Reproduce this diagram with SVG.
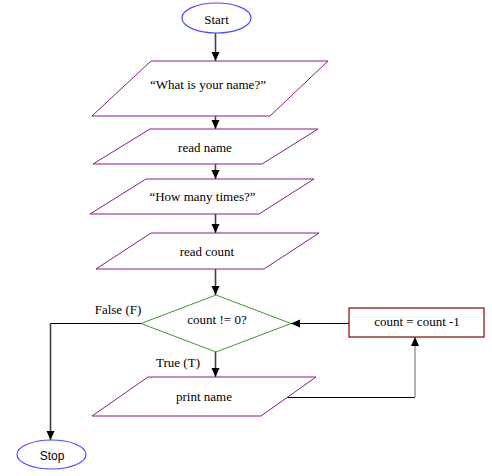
<svg xmlns="http://www.w3.org/2000/svg" width="492" height="476" viewBox="0 0 492 476">
<style>
text{font-family:"Liberation Serif","Times New Roman",serif;font-size:13px;fill:#000;text-anchor:middle}
.term{fill:#fff;stroke:#4d4dff;stroke-width:1.2}
.io{fill:#fff;stroke:#8b1a8b;stroke-width:1}
.dec{fill:#fff;stroke:#3f9a2f;stroke-width:1}
.proc{fill:#fff;stroke:#8b0000;stroke-width:1.2}
.v{fill:none;stroke:#404040;stroke-width:1.6}
.h{fill:none;stroke:#000;stroke-width:1}
.g{fill:none;stroke:#a0a0a0;stroke-width:1.6}
</style>
<defs>
<marker id="ah" markerWidth="10" markerHeight="10" refX="9" refY="5" orient="auto" markerUnits="userSpaceOnUse">
<path d="M0,1 L9,5 L0,9 Z" fill="#000"/>
</marker>
</defs>
<rect width="492" height="476" fill="#fff"/>
<g id="connectors">
<line class="v" x1="215.5" y1="33" x2="215.5" y2="61" marker-end="url(#ah)"/>
<line class="v" x1="215.5" y1="116" x2="215.5" y2="129" marker-end="url(#ah)"/>
<line class="v" x1="215.5" y1="164" x2="215.5" y2="179" marker-end="url(#ah)"/>
<line class="v" x1="215.5" y1="214" x2="215.5" y2="233" marker-end="url(#ah)"/>
<line class="v" x1="215.5" y1="269" x2="215.5" y2="295" marker-end="url(#ah)"/>
<line class="v" x1="215.5" y1="352" x2="215.5" y2="377" marker-end="url(#ah)"/>
<polyline class="h" points="141,323.5 50.5,323.5"/>
<line class="v" x1="50.5" y1="323.5" x2="50.5" y2="440" marker-end="url(#ah)"/>
<line class="h" x1="349" y1="323.5" x2="291" y2="323.5" marker-end="url(#ah)"/>
<polyline class="h" points="287,397.5 415,397.5"/>
<line class="g" x1="415" y1="397.5" x2="415" y2="337" marker-end="url(#ah)"/>
<text x="118" y="314">False (F)</text>
<text x="178" y="367">True (T)</text>
</g>
<g id="start">
<ellipse class="term" cx="216.5" cy="18" rx="34.5" ry="15"/>
<text x="216.5" y="24">Start</text>
</g>
<g id="ask-name">
<polygon class="io" points="151,61 328,61 270,116 92,116"/>
<text x="208" y="89">“What is your name?”</text>
</g>
<g id="read-name">
<polygon class="io" points="150,129 318,129 262,164 93,164"/>
<text x="205" y="152">read name</text>
</g>
<g id="ask-times">
<polygon class="io" points="146,179 314,179 259,214 90,214"/>
<text x="202.5" y="201">“How many times?”</text>
</g>
<g id="read-count">
<polygon class="io" points="151,233 319,233 264,269 96,269"/>
<text x="207" y="256">read count</text>
</g>
<g id="decision">
<polygon class="dec" points="216,295 291,323.5 216,352 141,323.5"/>
<text x="217" y="324">count != 0?</text>
</g>
<g id="print-name">
<polygon class="io" points="148,377 316,377 261,416 92,416"/>
<text x="204" y="401">print name</text>
</g>
<g id="decrement">
<rect class="proc" x="349" y="308" width="135" height="29"/>
<text x="417" y="326">count = count -1</text>
</g>
<g id="stop">
<ellipse class="term" cx="51.5" cy="454.5" rx="34.5" ry="14.5"/>
<text x="52" y="460" style="font-family:'Liberation Sans',Arial,sans-serif;font-size:12px">Stop</text>
</g>
</svg>
